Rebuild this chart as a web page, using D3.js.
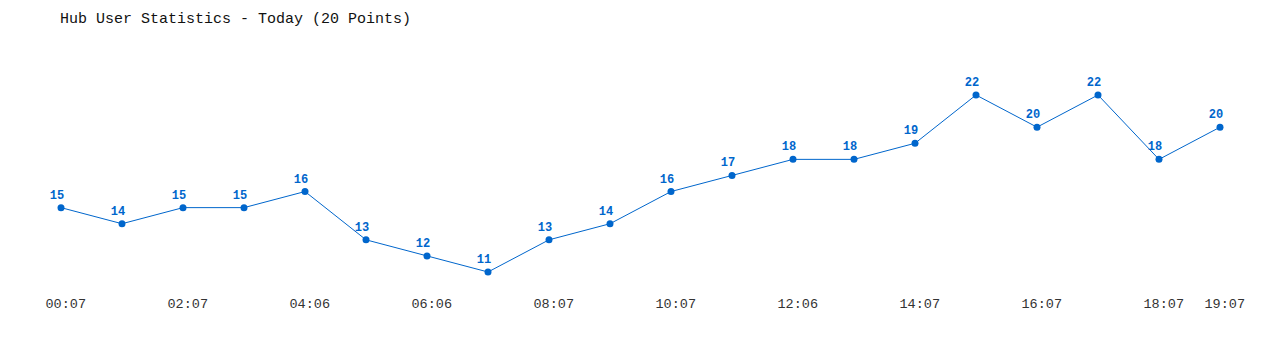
<!DOCTYPE html>
<html><head><meta charset="utf-8">
<script src="https://cdn.jsdelivr.net/npm/d3@7"></script>
<style>body{margin:0;background:#fff;}svg{display:block;}</style>
</head><body>
<script>
const times = ["00:07","01:07","02:07","03:07","04:06","05:06","06:06","07:06","08:07","09:07","10:07","11:07","12:06","13:06","14:07","15:07","16:07","17:07","18:07","19:07"];
const users = [15,14,15,15,16,13,12,11,13,14,16,17,18,18,19,22,20,22,18,20];
const tickLabels = ["00:07","02:07","04:06","06:06","08:07","10:07","12:06","14:07","16:07","18:07","19:07"];
const title = "Hub User Statistics - Today (20 Points)";

const W = 1280, H = 350;
const svg = d3.select("body").append("svg").attr("width", W).attr("height", H);
const x = d3.scalePoint().domain(times).range([61, 1220]);
const y = d3.scaleLinear().domain([11, 22]).range([272, 95]);
const color = "#0066cc";
const font = "'Liberation Mono', 'DejaVu Sans Mono', monospace";

svg.append("text").attr("x", 60).attr("y", 23).attr("font-family", font)
  .attr("font-size", 15).attr("fill", "#111").text(title);

const axis = d3.axisBottom(x).tickValues(tickLabels).tickSize(0).tickPadding(0);
const g = svg.append("g").attr("transform", "translate(0,297)").call(axis);
g.select(".domain").remove();
g.selectAll("text").attr("font-family", font).attr("font-size", 13.5).attr("fill", "#333")
  .attr("text-anchor", "start").attr("dx", -16).attr("dy", "0.85em");

svg.append("path").datum(users.map((v, i) => [times[i], v]))
  .attr("fill", "none").attr("stroke", color).attr("stroke-width", 1)
  .attr("d", d3.line().x(d => x(d[0])).y(d => y(d[1])));

svg.selectAll("circle.pt").data(users).join("circle").attr("class", "pt")
  .attr("cx", (d, i) => x(times[i])).attr("cy", d => y(d)).attr("r", 3.5).attr("fill", color);

svg.selectAll("text.lbl").data(users).join("text").attr("class", "lbl")
  .attr("x", (d, i) => x(times[i]) - 4).attr("y", d => y(d) - 9)
  .attr("text-anchor", "middle").attr("font-family", font).attr("font-weight", "bold")
  .attr("font-size", 12).attr("fill", color).text(d => d);
</script>
</body></html>
